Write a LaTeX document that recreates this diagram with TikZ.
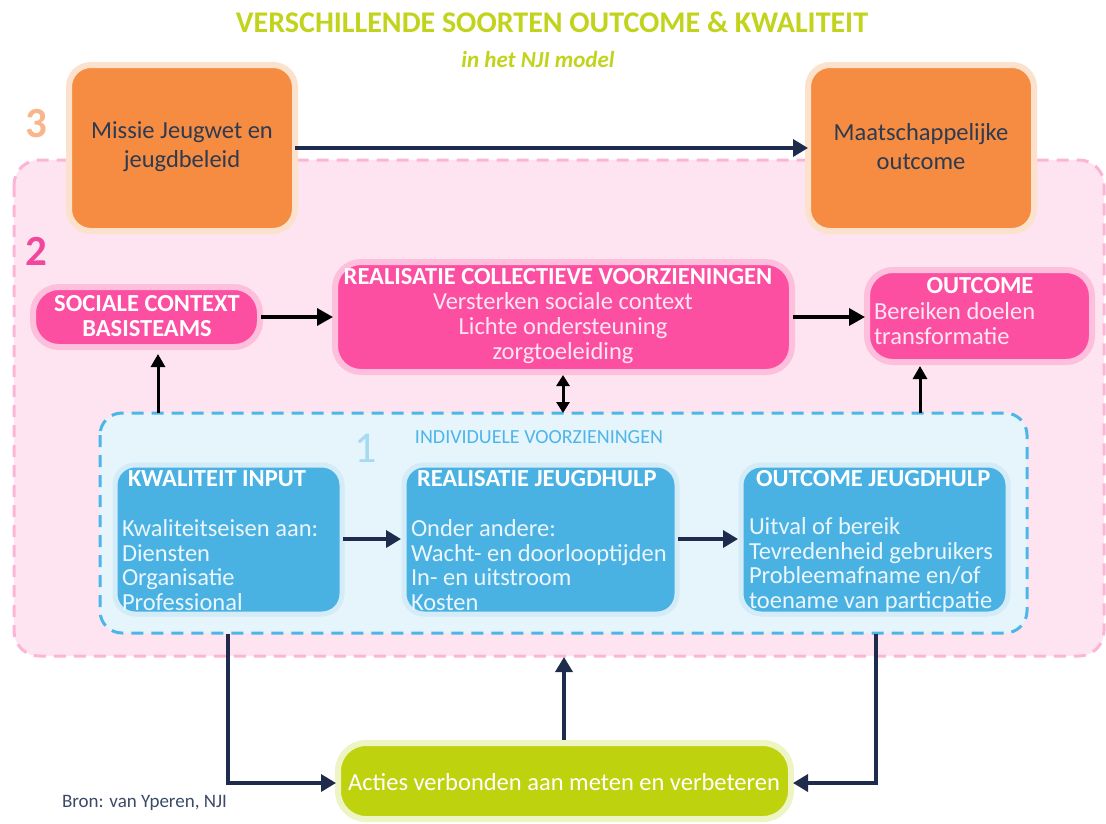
\documentclass[tikz,border=0pt]{standalone}
\usepackage{fontspec}
\setmainfont{Carlito}
\usetikzlibrary{arrows.meta}
\definecolor{ttlgreen}{HTML}{C2D31C}
\definecolor{orangebox}{HTML}{F58C42}
\definecolor{orangeglow}{HTML}{FCE2CC}
\definecolor{pinkregion}{HTML}{FDE4F0}
\definecolor{pinkdash}{HTML}{FDB5D6}
\definecolor{numtwo}{HTML}{F2479C}
\definecolor{numthree}{HTML}{F9B68A}
\definecolor{hotpink}{HTML}{FC4FA2}
\definecolor{pinkglow}{HTML}{FDBFDC}
\definecolor{pinktext}{HTML}{FDE6F1}
\definecolor{blueregion}{HTML}{E6F4FC}
\definecolor{bluedash}{HTML}{4DB6E8}
\definecolor{bluebox}{HTML}{4AB1E3}
\definecolor{blueglow}{HTML}{D3ECF8}
\definecolor{bluetext}{HTML}{EAF6FC}
\definecolor{numone}{HTML}{A6D9F2}
\definecolor{navy}{HTML}{1E2B4D}
\definecolor{greenbox}{HTML}{BFD20E}
\definecolor{greenglow}{HTML}{EEF4C4}
\definecolor{darktext}{HTML}{2E3A4F}
\definecolor{brontext}{HTML}{3D4A66}
\tikzset{
  every node/.style={inner sep=0pt, outer sep=0pt},
  obox/.style={draw=orangeglow, line width=6pt, fill=orangebox, rounded corners=22pt},
  pbox/.style={draw=pinkglow, line width=6pt, fill=hotpink, rounded corners=26pt},
  bbox/.style={draw=blueglow, line width=5pt, fill=bluebox, rounded corners=20pt},
  gbox/.style={draw=greenglow, line width=6pt, fill=greenbox, rounded corners=28pt},
  navyarrow/.style={draw=navy, line width=3.5pt, -{Triangle[length=15pt,width=17pt]}},
  blackarrow/.style={draw=black, line width=3.5pt, -{Triangle[length=16pt,width=17pt]}},
  vblack/.style={draw=black, line width=3pt, -{Triangle[length=13pt,width=14pt]}},
  bigtxt/.style={font=\fontsize{24.5}{29}\selectfont},
  bluebody/.style={text=bluetext, font=\fontsize{24.5}{24.7}\selectfont, align=left},
  bluetitle/.style={text=white, font=\fontsize{24.5}{25}\selectfont\bfseries},
  pinkbody/.style={text=pinktext, font=\fontsize{24.5}{25}\selectfont},
  pinktitle/.style={text=white, font=\fontsize{24.5}{25}\selectfont\bfseries},
  numlbl/.style={font=\fontsize{43}{43}\selectfont\bfseries},
}
\begin{document}
\begin{tikzpicture}[x=1pt,y=-1pt]
\useasboundingbox (0,0) rectangle (1106,823);
\fill[white] (0,0) rectangle (1106,823);
% title
\node[text=ttlgreen, font=\fontsize{30}{30}\selectfont\bfseries] (title) at (552,22) {VERSCHILLENDE SOORTEN OUTCOME \& KWALITEIT};
\node[text=ttlgreen, font=\fontsize{23}{23}\selectfont\bfseries\itshape] (subtitle) at (538,60) {in het NJI model};
% region 2
\draw[fill=pinkregion, draw=pinkdash, line width=3pt, dash pattern=on 12pt off 8pt, rounded corners=25pt] (14,160) rectangle (1104,656);
\node[numlbl, text=numtwo] (two) at (36,251) {2};
\node[numlbl, text=numthree] (three) at (36,124) {3};
% orange boxes
\draw[obox] (69,65) rectangle (295,231);
\node[bigtxt, text=darktext, align=center] (missie) at (182,147) {Missie Jeugwet en\\jeugdbeleid};
\draw[obox] (808,65) rectangle (1034,231);
\node[bigtxt, text=darktext, align=center] (maat) at (921,147) {Maatschappelijke\\outcome};
\coordinate (missieR) at (295,148);
\coordinate (maatL) at (808,148);
\draw[navyarrow] (missieR) -- (maatL);
% pink boxes
\draw[pbox] (33,287) rectangle (260,347);
\node[pinktitle, align=center] (soc) at (147,316) {SOCIALE CONTEXT\\BASISTEAMS};
\draw[pbox] (335,262) rectangle (792,372);
\node[pinktitle] (colt) at (558,277) {REALISATIE COLLECTIEVE VOORZIENINGEN};
\node[pinkbody, align=center] (colb) at (563,328) {Versterken sociale context\\Lichte ondersteuning\\zorgtoeleiding};
\draw[pbox] (867,270) rectangle (1092,362);
\node[pinktitle] (outt) at (980,286) {OUTCOME};
\node[pinkbody, align=left, anchor=west] (outb) at (874,324) {Bereiken doelen\\transformatie};
\coordinate (socR) at (261,317);
\coordinate (colL) at (333,317);
\coordinate (colR) at (793,317);
\coordinate (outL) at (865,317);
\draw[blackarrow] (socR) -- (colL);
\draw[blackarrow] (colR) -- (outL);
% region 1
\draw[fill=blueregion, draw=bluedash, line width=3pt, dash pattern=on 12pt off 8pt, rounded corners=22pt] (100,413) rectangle (1027,633);
\node[font=\fontsize{44}{44}\selectfont, text=numone] (one) at (366,448) {1};
\node[text=bluedash, font=\fontsize{20}{20}\selectfont] (indiv) at (539,437) {INDIVIDUELE VOORZIENINGEN};
% vertical arrows between levels
\coordinate (socB) at (158,354);
\coordinate (r1a) at (158,413);
\coordinate (outB) at (920,366);
\coordinate (r1c) at (920,413);
\coordinate (colB) at (563,375);
\coordinate (r1b) at (563,413);
\draw[vblack] (r1a) -- (socB);
\draw[vblack] (r1c) -- (outB);
\draw[draw=black, line width=3pt, {Triangle[length=11pt,width=13pt]}-{Triangle[length=11pt,width=13pt]}] (r1b) -- (colB);
% blue boxes
\draw[bbox] (115,465) rectangle (342,614);
\node[bluetitle, anchor=west] (kit) at (128,479) {KWALITEIT INPUT};
\node[bluebody, anchor=west] (kib) at (122,565) {Kwaliteitseisen aan:\\Diensten\\Organisatie\\Professional};
\draw[bbox] (404,465) rectangle (677,614);
\node[bluetitle, anchor=west] (rjt) at (417,479) {REALISATIE JEUGDHULP};
\node[bluebody, anchor=west] (rjb) at (411,565) {Onder andere:\\Wacht- en doorlooptijden\\In- en uitstroom\\Kosten};
\draw[bbox] (741,465) rectangle (1008,614);
\node[bluetitle, anchor=west] (ojt) at (756,479) {OUTCOME JEUGDHULP};
\node[bluebody, anchor=west] (ojb) at (749,565) {Uitval of bereik\\Tevredenheid gebruikers\\Probleemafname en/of\\toename van particpatie};
\coordinate (kiR) at (343,539);
\coordinate (rjL) at (401,539);
\coordinate (rjR) at (678,539);
\coordinate (ojL) at (738,539);
\draw[navyarrow] (kiR) -- (rjL);
\draw[navyarrow] (rjR) -- (ojL);
% green box
\draw[gbox] (338,743) rectangle (791,819);
\node[text=white, font=\fontsize{24.5}{25}\selectfont] (acties) at (564,782) {Acties verbonden aan meten en verbeteren};
\coordinate (gL) at (336,783);
\coordinate (gR) at (793,783);
\coordinate (gT) at (564,740);
\coordinate (r1bl) at (228,634);
\coordinate (r1br) at (876,634);
\coordinate (r2b) at (564,657);
\draw[navyarrow] (r1bl) |- (gL);
\draw[navyarrow] (r1br) |- (gR);
\draw[navyarrow] (gT) -- (r2b);
\node[text=brontext, font=\fontsize{19}{19}\selectfont, anchor=west] (bron) at (62,803) {Bron: van Yperen, NJI};
\end{tikzpicture}
\end{document}
